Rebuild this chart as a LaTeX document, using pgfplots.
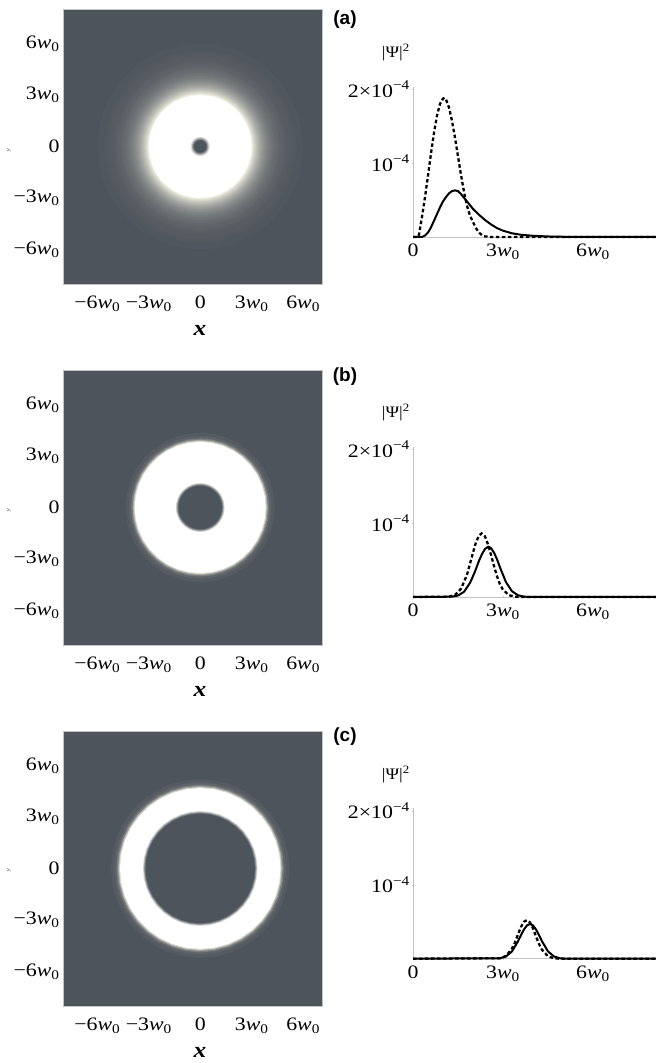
\documentclass[border=0pt]{standalone}
\usepackage{pgfplots}
\pgfplotsset{compat=1.18}
\usepackage{pgfplotstable}
\usepackage{fontspec}
\setmainfont{Liberation Serif}[FakeStretch=1.15]
\newfontfamily\labfont{Liberation Sans}

\definecolor{bgdark}{RGB}{78,84,91}
\definecolor{glow}{RGB}{250,248,232}
\definecolor{axgray}{RGB}{195,195,195}

% unit circle (cos, sin) every 10 degrees
\pgfplotstableread{
c s
1 0
0.9848 0.1736
0.9397 0.3420
0.8660 0.5000
0.7660 0.6428
0.6428 0.7660
0.5000 0.8660
0.3420 0.9397
0.1736 0.9848
0 1
-0.1736 0.9848
-0.3420 0.9397
-0.5000 0.8660
-0.6428 0.7660
-0.7660 0.6428
-0.8660 0.5000
-0.9397 0.3420
-0.9848 0.1736
-1 0
-0.9848 -0.1736
-0.9397 -0.3420
-0.8660 -0.5000
-0.7660 -0.6428
-0.6428 -0.7660
-0.5000 -0.8660
-0.3420 -0.9397
-0.1736 -0.9848
0 -1
0.1736 -0.9848
0.3420 -0.9397
0.5000 -0.8660
0.6428 -0.7660
0.7660 -0.6428
0.8660 -0.5000
0.9397 -0.3420
0.9848 -0.1736
1 0
}\unitcircle

\newcommand{\disc}[2]{\addplot[draw=none, fill=#2, forget plot] table[x expr=\thisrow{c}*#1, y expr=\thisrow{s}*#1]{\unitcircle};}
\newcommand{\wz}[1]{#1\textit{w}\textsubscript{0}}

\tikzset{psilab/.style={anchor=base east, inner sep=0pt, font=\fontsize{16bp}{18bp}\selectfont}}

\pgfplotsset{
  leftpanel/.style={
    anchor=south west, scale only axis, width=259bp, height=275bp,
    xmin=-8, xmax=7.1, ymin=-8, ymax=8,
    axis background/.style={fill=bgdark},
    axis line style={axgray, line width=0.6bp},
    axis on top, clip=false,
    xtick={-6,-3,0,3,6}, ytick={-6,-3,0,3,6},
    xticklabels={\wz{−6},\wz{−3},0,\wz{3},\wz{6}},
    yticklabels={\wz{−6},\wz{−3},0,\wz{3},\wz{6}},
    major tick length=0pt,
    tick label style={font=\fontsize{19bp}{21bp}\selectfont},
    xticklabel style={yshift=-8bp},
    xlabel={\textbf{\textit{x}}},
    xlabel style={font=\fontsize{22bp}{24bp}\selectfont, at={(ticklabel cs:0.529)}, yshift=-7bp},
  },
  rightpanel/.style={
    anchor=origin, scale only axis, width=243bp, height=150.2bp,
    xmin=0, xmax=8.1, ymin=0, ymax=2.03,
    axis x line=bottom, axis y line=left,
    every outer x axis line/.append style={-},
    every outer y axis line/.append style={-},
    axis line style={-, draw=axgray, line width=0.6bp},
    xtick={0,3,6}, xticklabels={0,\wz{3},\wz{6}},
    ytick={1,2}, yticklabels={10\textsuperscript{−4},2×10\textsuperscript{−4}},
    major tick length=2bp, tick style={axgray},
    tick label style={font=\fontsize{19bp}{21bp}\selectfont},
    yticklabel style={inner xsep=2bp},
    xticklabel style={inner ysep=6bp},
    clip=false,
  },
  solidc/.style={black, line width=2bp},
  dashc/.style={black, line width=2.3bp, dash pattern=on 3.5bp off 2.5bp},
}

\begin{document}
\begin{tikzpicture}
\useasboundingbox (0,0) rectangle (656bp,1063bp);

% ---------- (a) left ----------
\begin{axis}[leftpanel, at={(63bp,779bp)}]
\disc{6.0}{glow!2!bgdark}
\disc{5.8}{glow!2!bgdark}
\disc{5.6}{glow!3!bgdark}
\disc{5.4}{glow!4!bgdark}
\disc{5.2}{glow!5!bgdark}
\disc{5.0}{glow!7!bgdark}
\disc{4.9}{glow!8!bgdark}
\disc{4.8}{glow!9!bgdark}
\disc{4.7}{glow!10!bgdark}
\disc{4.6}{glow!12!bgdark}
\disc{4.5}{glow!14!bgdark}
\disc{4.4}{glow!15!bgdark}
\disc{4.3}{glow!18!bgdark}
\disc{4.2}{glow!20!bgdark}
\disc{4.1}{glow!23!bgdark}
\disc{4.0}{glow!26!bgdark}
\disc{3.95}{glow!28!bgdark}
\disc{3.9}{glow!30!bgdark}
\disc{3.85}{glow!32!bgdark}
\disc{3.8}{glow!34!bgdark}
\disc{3.75}{glow!37!bgdark}
\disc{3.7}{glow!39!bgdark}
\disc{3.65}{glow!42!bgdark}
\disc{3.6}{glow!45!bgdark}
\disc{3.55}{glow!48!bgdark}
\disc{3.5}{glow!51!bgdark}
\disc{3.45}{glow!55!bgdark}
\disc{3.4}{glow!59!bgdark}
\disc{3.35}{glow!63!bgdark}
\disc{3.3}{glow!67!bgdark}
\disc{3.25}{glow!72!bgdark}
\disc{3.2}{glow!77!bgdark}
\disc{3.15}{glow!82!bgdark}
\disc{3.1}{glow!88!bgdark}
\disc{3.05}{glow!94!bgdark}
\disc{3.0}{white}
\disc{0.55}{white!75!bgdark}
\disc{0.48}{white!45!bgdark}
\disc{0.42}{white!20!bgdark}
\disc{0.36}{bgdark}
\end{axis}

% ---------- (a) right ----------
\begin{axis}[rightpanel, at={(413bp,826bp)}]
\addplot[dashc] coordinates {(0,0)(0.15,0)(0.2,0.03)(0.25,0.15)(0.3,0.27)(0.4,0.54)(0.5,0.83)(0.6,1.13)(0.7,1.41)(0.8,1.64)(0.9,1.80)(1.0,1.87)(1.05,1.88)(1.1,1.86)(1.2,1.75)(1.3,1.57)(1.4,1.34)(1.5,1.09)(1.6,0.84)(1.7,0.61)(1.8,0.42)(1.9,0.29)(2.0,0.20)(2.1,0.12)(2.2,0.06)(2.3,0.025)(2.4,0.008)(2.6,0)(8.1,0)};
\addplot[solidc] coordinates {(0,0)(0.3,0)(0.4,0.02)(0.5,0.06)(0.6,0.13)(0.7,0.22)(0.8,0.31)(0.9,0.40)(1.0,0.48)(1.1,0.54)(1.2,0.59)(1.3,0.62)(1.4,0.63)(1.5,0.62)(1.6,0.58)(1.8,0.48)(2.0,0.38)(2.2,0.30)(2.4,0.23)(2.6,0.17)(2.8,0.12)(3.0,0.085)(3.3,0.05)(3.6,0.03)(4.0,0.016)(4.5,0.007)(5.0,0.003)(6.0,0)(8.1,0)};
\node[psilab] at ([xshift=-3bp,yshift=29bp]rel axis cs:0,1) {|Ψ|\textsuperscript{2}};
\end{axis}

% ---------- (b) left ----------
\begin{axis}[leftpanel, at={(63bp,418bp)}]
\disc{4.35}{glow!4!bgdark}
\disc{4.15}{glow!10!bgdark}
\disc{4.02}{glow!25!bgdark}
\disc{3.94}{glow!50!bgdark}
\disc{3.88}{glow!78!bgdark}
\disc{3.82}{white}
\disc{1.42}{white!75!bgdark}
\disc{1.37}{white!45!bgdark}
\disc{1.32}{white!20!bgdark}
\disc{1.27}{bgdark}
\end{axis}

% ---------- (b) right ----------
\begin{axis}[rightpanel, at={(413bp,466bp)}]
\addplot[dashc] coordinates {(0,0)(1.2,0.005)(1.4,0.028)(1.6,0.11)(1.8,0.30)(1.9,0.45)(2.0,0.60)(2.1,0.74)(2.2,0.83)(2.29,0.86)(2.4,0.82)(2.5,0.71)(2.6,0.57)(2.7,0.42)(2.8,0.28)(2.9,0.17)(3.0,0.097)(3.2,0.024)(3.4,0.004)(3.6,0)(8.1,0)};
\addplot[solidc] coordinates {(0,0)(1.3,0.004)(1.5,0.020)(1.7,0.070)(1.9,0.19)(2.0,0.28)(2.1,0.38)(2.2,0.49)(2.3,0.58)(2.4,0.65)(2.51,0.68)(2.6,0.66)(2.7,0.60)(2.8,0.51)(2.9,0.40)(3.0,0.30)(3.1,0.20)(3.3,0.078)(3.5,0.023)(3.7,0.005)(3.9,0)(8.1,0)};
\node[psilab] at ([xshift=-3bp,yshift=29bp]rel axis cs:0,1) {|Ψ|\textsuperscript{2}};
\end{axis}

% ---------- (c) left ----------
\begin{axis}[leftpanel, at={(63bp,57bp)}]
\disc{5.2}{glow!4!bgdark}
\disc{5.0}{glow!10!bgdark}
\disc{4.88}{glow!25!bgdark}
\disc{4.8}{glow!50!bgdark}
\disc{4.74}{glow!78!bgdark}
\disc{4.68}{white}
\disc{3.34}{white!75!bgdark}
\disc{3.29}{white!45!bgdark}
\disc{3.24}{white!20!bgdark}
\disc{3.19}{bgdark}
\end{axis}

% ---------- (c) right ----------
\begin{axis}[rightpanel, at={(413bp,104.3bp)}]
\addplot[dashc] coordinates {(0,0)(2.9,0.006)(3.1,0.037)(3.3,0.137)(3.4,0.22)(3.5,0.33)(3.6,0.43)(3.7,0.50)(3.79,0.52)(3.9,0.49)(4.0,0.41)(4.1,0.30)(4.2,0.20)(4.3,0.12)(4.5,0.032)(4.7,0.005)(4.9,0)(8.1,0)};
\addplot[solidc] coordinates {(0,0)(2.9,0.006)(3.1,0.030)(3.3,0.099)(3.5,0.235)(3.6,0.32)(3.7,0.395)(3.8,0.45)(3.9,0.47)(4.0,0.45)(4.1,0.395)(4.2,0.32)(4.3,0.235)(4.5,0.099)(4.7,0.030)(4.9,0.006)(5.1,0)(8.1,0)};
\node[psilab] at ([xshift=-3bp,yshift=29bp]rel axis cs:0,1) {|Ψ|\textsuperscript{2}};
\end{axis}

% panel letters
\node[font=\labfont\bfseries\fontsize{19bp}{21bp}\selectfont] at (345bp,1043bp) {(a)};
\node[font=\labfont\bfseries\fontsize{19bp}{21bp}\selectfont] at (345bp,686bp) {(b)};
\node[font=\labfont\bfseries\fontsize{19bp}{21bp}\selectfont] at (345bp,326bp) {(c)};

% remnants of the cropped y labels
\node[rotate=90, font=\fontsize{5bp}{5bp}\selectfont] at (9bp,913bp) {\textit{y}};
\node[rotate=90, font=\fontsize{5bp}{5bp}\selectfont] at (9bp,553bp) {\textit{y}};
\node[rotate=90, font=\fontsize{5bp}{5bp}\selectfont] at (9bp,193bp) {\textit{y}};
\end{tikzpicture}
\end{document}
